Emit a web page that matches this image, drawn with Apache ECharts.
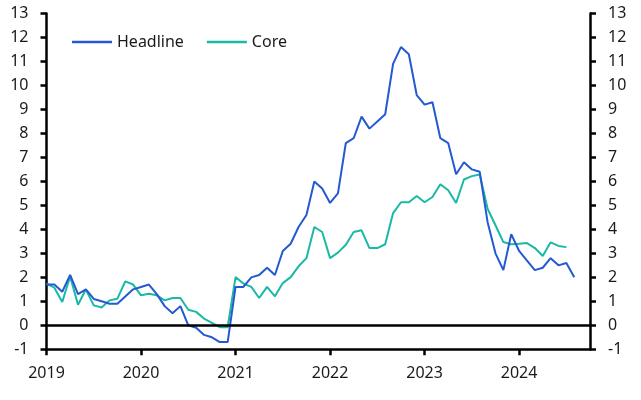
<!DOCTYPE html>
<html>
<head>
<meta charset="utf-8">
<script src="https://cdn.jsdelivr.net/npm/echarts@6/dist/echarts.min.js"></script>
<style>html,body{margin:0;padding:0;background:#fff}#c{width:641px;height:400px}</style>
</head>
<body>
<div id="c"></div>
<script>
// Monthly categories Jan 2019 .. Oct 2024
const years = [2019, 2020, 2021, 2022, 2023, 2024];
const yTicks = [-1,0,1,2,3,4,5,6,7,8,9,10,11,12,13];
const headline = [
  1.7,1.7,1.4,2.1,1.3,1.5,1.1,1.0,0.9,0.9,1.2,1.5,
  1.6,1.7,1.3,0.8,0.5,0.8,0.0,-0.1,-0.4,-0.5,-0.7,-0.7,
  1.6,1.6,2.0,2.1,2.4,2.1,3.1,3.4,4.1,4.6,6.0,5.7,
  5.1,5.5,7.6,7.8,8.7,8.2,8.5,8.8,10.9,11.6,11.3,9.6,
  9.2,9.3,7.8,7.6,6.3,6.8,6.5,6.4,4.3,3.0,2.3,3.8,
  3.1,2.7,2.3,2.4,2.8,2.5,2.6,2.0
];
const core = [
  1.74,1.57,0.97,2.04,0.86,1.49,0.83,0.74,1.04,1.11,1.83,1.70,
  1.25,1.32,1.25,1.04,1.14,1.14,0.65,0.56,0.28,0.10,-0.08,-0.08,
  2.01,1.74,1.60,1.14,1.60,1.21,1.76,2.01,2.46,2.80,4.10,3.89,
  2.80,3.03,3.36,3.89,3.96,3.22,3.22,3.38,4.68,5.13,5.13,5.39,
  5.13,5.35,5.88,5.63,5.10,6.08,6.22,6.29,4.86,4.17,3.47,3.38,
  3.40,3.43,3.22,2.89,3.46,3.31,3.26
];
const months = [];
for (let y = 2019; y <= 2024; y++) {
  for (let m = 1; m <= 12; m++) {
    if (y === 2024 && m > 10) break;
    months.push(y + '-' + (m < 10 ? '0' + m : m));
  }
}
const isJan = (i) => months[i].endsWith('-01');
const font = '"Noto Sans", "Open Sans", sans-serif';
const txt = '#1a1a1a';
const blue = '#2459d2';
const teal = '#19b9a6';
const chart = echarts.init(document.getElementById('c'), null, {renderer: 'canvas'});
const yAxisBase = {
  type: 'value', min: -1, max: 13, interval: 1,
  splitLine: {show: false},
  axisLine: {show: true, lineStyle: {color: '#000', width: 2.5}},
  axisTick: {show: true, length: 6, lineStyle: {color: '#000', width: 2.5}},
  axisLabel: {color: txt, fontSize: 16, fontFamily: font, margin: 18}
};
chart.setOption({
  animation: false,
  grid: {left: 46.5, right: 51, top: 13.5, bottom: 50.7, containLabel: false},
  legend: {
    left: 67, top: 29, itemWidth: 40, itemHeight: 2.5, itemGap: 23,
    icon: 'rect',
    textStyle: {color: txt, fontSize: 16, fontFamily: font},
    data: [
      {name: 'Headline', itemStyle: {color: blue}},
      {name: 'Core', itemStyle: {color: teal}}
    ]
  },
  xAxis: {
    type: 'category', data: months, boundaryGap: false,
    axisLine: {onZero: false, lineStyle: {color: '#000', width: 2.5}},
    axisTick: {show: true, length: 6, interval: (i) => isJan(i), lineStyle: {color: '#000', width: 2.5}},
    axisLabel: {
      interval: (i) => isJan(i), color: txt, fontSize: 16, fontFamily: font, margin: 16,
      formatter: (v) => v.slice(0, 4)
    }
  },
  yAxis: [
    Object.assign({}, yAxisBase, {position: 'left'}),
    Object.assign({}, yAxisBase, {position: 'right'})
  ],
  series: [
    {
      name: 'Headline', type: 'line', data: headline, yAxisIndex: 0,
      symbol: 'none', showSymbol: false, color: blue,
      lineStyle: {width: 2, color: blue},
      markLine: {
        silent: true, symbol: 'none', label: {show: false},
        lineStyle: {color: '#000', width: 2.5, type: 'solid'},
        data: [{yAxis: 0}]
      },
      z: 3
    },
    {
      name: 'Core', type: 'line', data: core, yAxisIndex: 0,
      symbol: 'none', showSymbol: false, color: teal,
      lineStyle: {width: 2, color: teal},
      z: 2
    }
  ]
});
</script>
</body>
</html>
